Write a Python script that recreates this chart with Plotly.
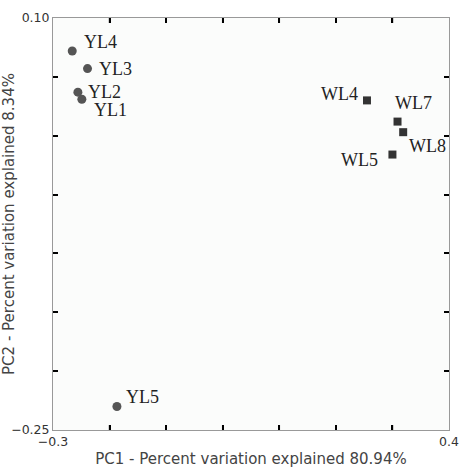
import plotly.graph_objects as go

yl_names = ["YL1", "YL2", "YL3", "YL4", "YL5"]
yl_x = [-0.249, -0.256, -0.239, -0.266, -0.187]
yl_y = [0.031, 0.037, 0.057, 0.072, -0.230]

wl_names = ["WL4", "WL5", "WL7", "WL8"]
wl_x = [0.255, 0.300, 0.309, 0.319]
wl_y = [0.030, -0.016, 0.012, 0.003]

x_ticks = [-0.3, -0.2, -0.1, 0.0, 0.1, 0.2, 0.3, 0.4]
x_ticktext = ["−0.3", "", "", "", "", "", "", "0.4"]
y_ticks = [-0.25, -0.20, -0.15, -0.10, -0.05, 0.0, 0.05, 0.10]
y_ticktext = ["−0.25", "", "", "", "", "", "", "0.10"]

# label offsets (pixels) and anchors
label_pos = {
    "YL1": (10, -11, "left"),
    "YL2": (8, 0, "left"),
    "YL3": (9, 0, "left"),
    "YL4": (10, 9, "left"),
    "YL5": (7, 9, "left"),
    "WL4": (-7, 6, "right"),
    "WL5": (-12, -5, "right"),
    "WL7": (-5, 19, "left"),
    "WL8": (4, -14, "left"),
}

fig = go.Figure()
fig.add_trace(go.Scatter(x=yl_x, y=yl_y, mode="markers",
                         marker=dict(symbol="circle", size=9, color="#555555"),
                         name="YL", hoverinfo="text", text=yl_names))
fig.add_trace(go.Scatter(x=wl_x, y=wl_y, mode="markers",
                         marker=dict(symbol="square", size=8, color="#333333"),
                         name="WL", hoverinfo="text", text=wl_names))

for names, xs, ys in [(yl_names, yl_x, yl_y), (wl_names, wl_x, wl_y)]:
    for n, xv, yv in zip(names, xs, ys):
        dx, dy, anc = label_pos[n]
        fig.add_annotation(x=xv, y=yv, text=n, showarrow=False,
                           xanchor=anc, yanchor="middle", xshift=dx, yshift=dy,
                           font=dict(family="Liberation Serif", size=18, color="#222222"))

# inward tick marks on bottom and top edges, placed at the x tick values
for tv in x_ticks[1:-1]:
    fig.add_shape(type="line", xref="x", yref="paper", ysizemode="pixel", yanchor=0,
                  x0=tv, x1=tv, y0=0, y1=5, layer="above",
                  line=dict(color="#000000", width=1.5))
    fig.add_shape(type="line", xref="x", yref="paper", ysizemode="pixel", yanchor=1,
                  x0=tv, x1=tv, y0=0, y1=-5, layer="above",
                  line=dict(color="#000000", width=1.5))

axis_common = dict(showgrid=False, zeroline=False, showline=True, linecolor="#999999",
                   linewidth=1, mirror="ticks", ticks="inside", ticklen=5,
                   tickcolor="#000000", tickwidth=1.5, automargin=False,
                   ticklabeloverflow="allow",
                   tickfont=dict(family="DejaVu Sans", size=12.5, color="#333333"))

fig.update_xaxes(range=[-0.3, 0.4], tickvals=x_ticks, ticktext=x_ticktext,
                 title=dict(text="PC1 - Percent variation explained 80.94%", standoff=6,
                            font=dict(family="DejaVu Sans", size=15, color="#444444")),
                 **axis_common)
fig.update_yaxes(range=[-0.25, 0.10], tickvals=y_ticks, ticktext=y_ticktext,
                 title=dict(text="PC2 - Percent variation explained 8.34%", standoff=2,
                            font=dict(family="DejaVu Sans", size=15, color="#444444")),
                 **axis_common)

fig.update_layout(width=459, height=468, showlegend=False,
                  margin=dict(l=53, r=10, t=18, b=38),
                  paper_bgcolor="white", plot_bgcolor="#fbfcfb")

fig.write_html("out.html", config={"displayModeBar": False},
               post_script="document.body.style.margin='0';document.body.style.overflow='hidden';")
